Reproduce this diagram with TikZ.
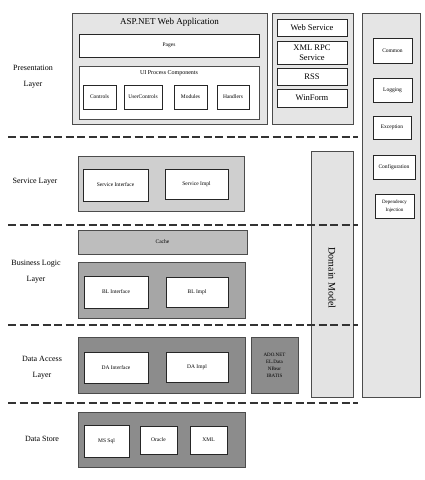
\documentclass[tikz,border=0pt]{standalone}
\usepackage{fontspec}
\setmainfont{Liberation Serif}
\usepackage{tikz}
\usetikzlibrary{positioning}

\begin{document}
\begin{tikzpicture}[x=1pt, y=-1pt,
		layerBox/.style={draw=black!70, rectangle, line width=0.8pt, inner sep=0pt},
		partBox/.style={draw=black!85, rectangle, fill=white, line width=0.6pt, inner sep=0pt, text centered, align=center, font=\fontsize{5.5}{7}\selectfont},
		bigBox/.style={draw=black!85, rectangle, fill=white, line width=0.6pt, inner sep=0pt, text centered, align=center, font=\fontsize{8.5}{10}\selectfont},
		layerText/.style={align=center, font=\fontsize{8}{16}\selectfont},
		sep/.style={dash pattern=on 8pt off 3.5pt, line width=1.1pt, black!80}]
		\useasboundingbox (0,0) rectangle (424,480);
		
		%Presentation layer
		\node (aspApp) at (169.5,68.5) [layerBox, minimum width=195pt, minimum height=111pt, fill=black!10]{};
		\node (aspTitle) at (169.5,22) [font=\fontsize{9}{10}\selectfont]{ASP.NET Web Application};
		\node (pages) at (169,45.5) [partBox, minimum width=180pt, minimum height=23pt]{Pages};
		\node (uiProc) at (169,92.5) [layerBox, minimum width=180pt, minimum height=53pt, fill=white]{};
		\node (uiTitle) at (169,73) [font=\fontsize{6}{7}\selectfont]{UI Process Components};
		\node (controls) at (99.5,97) [partBox, minimum width=33pt, minimum height=24pt]{Controls};
		\node (userControls) at (143,97) [partBox, minimum width=38pt, minimum height=24pt]{UserControls};
		\node (modules) at (190.5,97) [partBox, minimum width=33pt, minimum height=24pt]{Modules};
		\node (handlers) at (233,97) [partBox, minimum width=32pt, minimum height=24pt]{Handlers};
		
		\node (clientBox) at (312.5,68.5) [layerBox, minimum width=81pt, minimum height=111pt, fill=black!10]{};
		\node (webService) at (312,27.5) [bigBox, minimum width=70pt, minimum height=17pt]{Web Service};
		\node (xmlRpc) at (312,52.5) [bigBox, minimum width=70pt, minimum height=23pt]{XML RPC\\Service};
		\node (rss) at (312,76.5) [bigBox, minimum width=70pt, minimum height=17pt]{RSS};
		\node (winForm) at (312,98) [bigBox, minimum width=70pt, minimum height=18pt]{WinForm};
		
		%Cross cutting column
		\node (crossCut) at (391,205) [layerBox, minimum width=58pt, minimum height=384pt, fill=black!10]{};
		\node (common) at (392.5,50.5) [partBox, minimum width=39pt, minimum height=25pt]{Common};
		\node (logging) at (392.5,90) [partBox, minimum width=39pt, minimum height=24pt]{Logging};
		\node (exception) at (392,127.5) [partBox, minimum width=38pt, minimum height=23pt]{Exception};
		\node (config) at (394,167) [partBox, minimum width=42pt, minimum height=24pt]{Configuration};
		\node (depInj) at (394.5,206) [partBox, minimum width=39pt, minimum height=24pt, font=\fontsize{5}{8}\selectfont]{Dependency\\Injection};
		
		\node (domainModel) at (332,274) [layerBox, minimum width=42pt, minimum height=246pt, fill=black!11]{};
		\node (domainText) at (332,278) [rotate=-90, font=\fontsize{10}{12}\selectfont]{Domain Model};
		
		%Service layer
		\node (serviceLayer) at (161,183.5) [layerBox, minimum width=166pt, minimum height=55pt, fill=black!19]{};
		\node (serviceIface) at (115.5,185) [partBox, minimum width=65pt, minimum height=32pt]{Service Interface};
		\node (serviceImpl) at (196.5,184) [partBox, minimum width=63pt, minimum height=30pt]{Service Impl};
		
		%Business logic layer
		\node (cache) at (162.5,242) [layerBox, minimum width=169pt, minimum height=24pt, fill=black!26, font=\fontsize{5.5}{7}\selectfont]{Cache};
		\node (blLayer) at (161.5,290) [layerBox, minimum width=167pt, minimum height=56pt, fill=black!35]{};
		\node (blIface) at (116,292) [partBox, minimum width=64pt, minimum height=32pt]{BL Interface};
		\node (blImpl) at (197,292) [partBox, minimum width=62pt, minimum height=30pt]{BL Impl};
		
		%Data access layer
		\node (daLayer) at (161.5,365) [layerBox, minimum width=167pt, minimum height=56pt, fill=black!45]{};
		\node (daIface) at (116,367.5) [partBox, minimum width=64pt, minimum height=31pt]{DA Interface};
		\node (daImpl) at (197,367) [partBox, minimum width=62pt, minimum height=30pt]{DA Impl};
		\node (adoNet) at (274.5,365) [layerBox, minimum width=47pt, minimum height=56pt, fill=black!45, align=center, font=\fontsize{5}{7}\selectfont]{ADO.NET\\EL.Data\\NBear\\IBATIS};
		
		%Data store
		\node (dsLayer) at (161.5,439.5) [layerBox, minimum width=167pt, minimum height=55pt, fill=black!45]{};
		\node (msSql) at (106.5,441) [partBox, minimum width=45pt, minimum height=32pt]{MS Sql};
		\node (oracle) at (158.5,440) [partBox, minimum width=37pt, minimum height=28pt]{Oracle};
		\node (xml) at (208.5,440) [partBox, minimum width=37pt, minimum height=28pt]{XML};
		
		%Layer names
		\node (presText) at (33,77) [layerText]{Presentation\\Layer};
		\node (serviceText) at (35,182) [layerText]{Service Layer};
		\node (blText) at (36,272) [layerText]{Business Logic\\Layer};
		\node (daText) at (42,368) [layerText]{Data Access\\Layer};
		\node (dsText) at (42,439) [layerText]{Data Store};
		
		%Separators
		\coordinate (sepA-l) at (8,137);
		\coordinate (sepA-r) at (358,137);
		\coordinate (sepB-l) at (8,225);
		\coordinate (sepB-r) at (358,225);
		\coordinate (sepC-l) at (8,325);
		\coordinate (sepC-r) at (358,325);
		\coordinate (sepD-l) at (8,403);
		\coordinate (sepD-r) at (358,403);
		\draw[sep] (sepA-l) -- (sepA-r);
		\draw[sep] (sepB-l) -- (sepB-r);
		\draw[sep] (sepC-l) -- (sepC-r);
		\draw[sep] (sepD-l) -- (sepD-r);
		
\end{tikzpicture}
\end{document}
